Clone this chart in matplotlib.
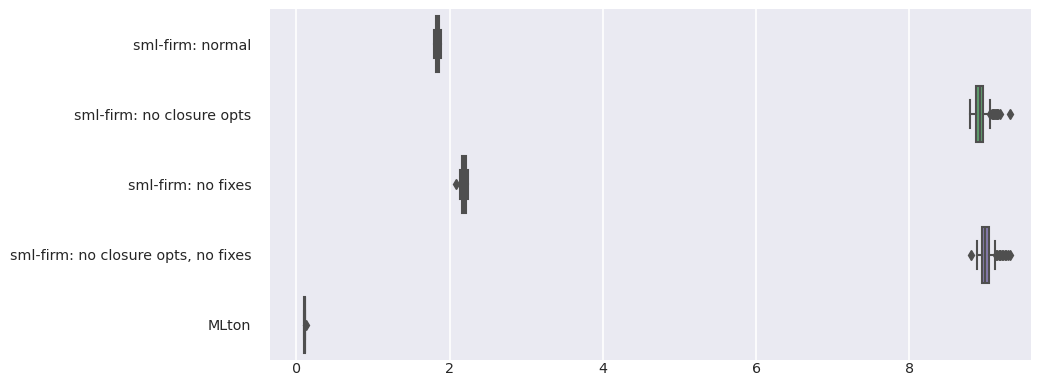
import colorsys
import matplotlib
matplotlib.use("Agg")
import matplotlib.pyplot as plt
import matplotlib.colors as mcolors

# benchmark run times, one box per configuration
labels = ["sml-firm: normal",
          "sml-firm: no closure opts",
          "sml-firm: no fixes",
          "sml-firm: no closure opts, no fixes",
          "MLton"]
q1 = [1.817, 8.87, 2.165, 8.95, 0.104]
med = [1.840, 8.92, 2.190, 8.99, 0.110]
q3 = [1.864, 8.966, 2.217, 9.045, 0.116]
whislo = [1.791, 8.80, 2.13, 8.89, 0.100]
whishi = [1.890, 9.05, 2.24, 9.12, 0.118]
fliers = [[],
          [9.06, 9.08, 9.09, 9.10, 9.11, 9.12, 9.13, 9.14, 9.15, 9.16, 9.18, 9.32],
          [2.086],
          [8.81, 9.13, 9.15, 9.17, 9.18, 9.19, 9.21, 9.23, 9.25, 9.27, 9.29, 9.31],
          [0.121]]

palette = ["#4C72B0", "#55A868", "#C44E52", "#8172B2", "#CCB974"]


def desat(c, prop=0.75):
    h, l, s = colorsys.rgb_to_hls(*mcolors.to_rgb(c))
    return colorsys.hls_to_rgb(h, l, s * prop)


gray = "#4f4f4f"

stats = []
for i in range(len(labels)):
    stats.append(dict(q1=q1[i], med=med[i], q3=q3[i], whislo=whislo[i],
                      whishi=whishi[i], fliers=fliers[i]))

fig = plt.figure(figsize=(10.37, 3.79), dpi=100)
ax = fig.add_axes([0.2604, 0.0501, 0.7338, 0.9262])
ax.set_facecolor("#EAEAF2")
for s in ax.spines.values():
    s.set_visible(False)
ax.set_axisbelow(True)
ax.grid(axis="x", color="white", linewidth=1.2)

bp = ax.bxp(stats, positions=range(len(labels)), widths=0.8,
            orientation="horizontal", patch_artist=True,
            boxprops=dict(edgecolor=gray, linewidth=1.5),
            medianprops=dict(color=gray, linewidth=1.5),
            whiskerprops=dict(color=gray, linewidth=1.5),
            capprops=dict(color=gray, linewidth=1.5),
            flierprops=dict(marker="d", markersize=5, markerfacecolor=gray,
                            markeredgecolor=gray, linestyle="none"))
for patch, c in zip(bp["boxes"], palette):
    patch.set_facecolor(desat(c))

ax.set_yticks(range(len(labels)))
ax.set_yticklabels(labels)
ax.set_ylim(4.5, -0.5)
ax.set_xlim(-0.345, 9.59)
ax.set_xticks([0, 2, 4, 6, 8])
ax.tick_params(length=0, labelsize=10.25, colors="#262626")
ax.tick_params(axis="x", pad=1.5)
ax.tick_params(axis="y", pad=13.5)

fig.savefig("out.png", dpi=100)
